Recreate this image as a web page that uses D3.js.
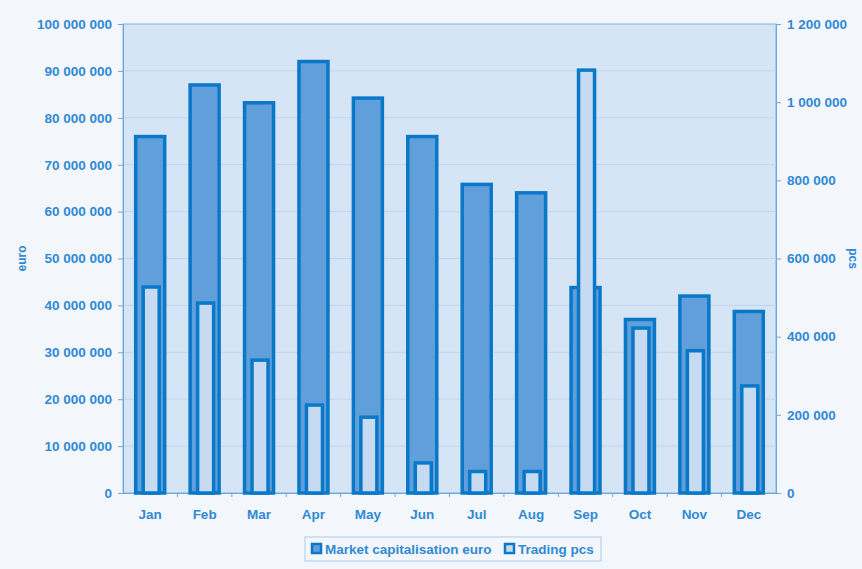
<!DOCTYPE html>
<html>
<head>
<meta charset="utf-8">
<script src="https://cdn.jsdelivr.net/npm/d3@7"></script>
<style>
  body { margin: 0; background: #f3f7fc; }
  svg text { font-family: "Liberation Sans", Arial, sans-serif; font-weight: bold; fill: #3189d4; }
</style>
</head>
<body>
<svg id="chart" width="862" height="569"></svg>
<script>
const months = ["Jan", "Feb", "Mar", "Apr", "May", "Jun", "Jul", "Aug", "Sep", "Oct", "Nov", "Dec"];
const marketCap = [76000000, 87000000, 83200000, 92000000, 84200000, 76000000, 65800000, 64000000, 43800000, 37000000, 42000000, 38700000];
const tradingPcs = [527000, 486000, 340000, 225000, 194000, 77000, 55000, 55000, 1082000, 422000, 364000, 274000];
const leftTicks = d3.range(0, 100000001, 10000000);
const rightTicks = d3.range(0, 1200001, 200000);

const W = 862, H = 569;
const m = { top: 24, right: 86, bottom: 76, left: 123 };
const x0 = m.left, x1 = W - m.right, y0 = H - m.bottom, y1 = m.top;

const svg = d3.select("#chart");
const fmt = v => d3.format(",")(v).replace(/,/g, " ");

const x = d3.scaleBand(months, [x0, x1]);
const yL = d3.scaleLinear([0, 100000000], [y0, y1]);
const yR = d3.scaleLinear([0, 1200000], [y0, y1]);

const stroke = "#0a78c8";

// plot area
svg.append("rect")
    .attr("x", x0).attr("y", y1)
    .attr("width", x1 - x0).attr("height", y0 - y1)
    .attr("fill", "#d6e5f5")
    .attr("stroke", "#7fb1e0").attr("stroke-width", 1);

// grid
svg.append("g").selectAll("line")
    .data(leftTicks.slice(1, -1))
    .join("line")
    .attr("x1", x0).attr("x2", x1)
    .attr("y1", d => yL(d)).attr("y2", d => yL(d))
    .attr("stroke", "#bfd5ee").attr("stroke-width", 1);

// left axis
const gl = svg.append("g")
    .attr("transform", `translate(${x0},0)`)
    .call(d3.axisLeft(yL).tickValues(leftTicks).tickFormat(fmt).tickSize(5).tickPadding(6));
gl.select(".domain").attr("stroke", "#6ea7dc");
gl.selectAll(".tick line").attr("stroke", "#6ea7dc");
gl.selectAll("text").attr("font-size", 13.5).style("fill", "#3189d4");

// right axis
const gr = svg.append("g")
    .attr("transform", `translate(${x1},0)`)
    .call(d3.axisRight(yR).tickValues(rightTicks).tickFormat(fmt).tickSize(5).tickPadding(6));
gr.select(".domain").attr("stroke", "#6ea7dc");
gr.selectAll(".tick line").attr("stroke", "#6ea7dc");
gr.selectAll("text").attr("font-size", 13.5).style("fill", "#3189d4");

// bottom axis
const gb = svg.append("g")
    .attr("transform", `translate(0,${y0})`)
    .call(d3.axisBottom(x).tickSize(0).tickPadding(16));
gb.select(".domain").attr("stroke", "#6ea7dc");
gb.selectAll("text").attr("font-size", 13.5).style("fill", "#3189d4");
gb.selectAll(".sep")
    .data(months.slice(1))
    .join("line")
    .attr("x1", d => x(d)).attr("x2", d => x(d))
    .attr("y1", 0).attr("y2", 4)
    .attr("stroke", "#6ea7dc");

// market cap bars
const bw = 29;
svg.append("g").selectAll("rect")
    .data(months)
    .join("rect")
    .attr("x", d => x(d) + x.bandwidth() / 2 - bw / 2)
    .attr("y", (d, i) => yL(marketCap[i]))
    .attr("width", bw)
    .attr("height", (d, i) => y0 - yL(marketCap[i]))
    .attr("fill", "#609fd9")
    .attr("stroke", stroke).attr("stroke-width", 3.5);

// trading bars
const tw = 16;
svg.append("g").selectAll("rect")
    .data(months)
    .join("rect")
    .attr("x", d => x(d) + x.bandwidth() / 2 - tw / 2 + 1)
    .attr("y", (d, i) => yR(tradingPcs[i]))
    .attr("width", tw)
    .attr("height", (d, i) => y0 - yR(tradingPcs[i]))
    .attr("fill", "#c6dbf1")
    .attr("stroke", stroke).attr("stroke-width", 3.5);

// axis titles
svg.append("text")
    .attr("transform", `translate(26,${(y0 + y1) / 2}) rotate(-90)`)
    .attr("text-anchor", "middle").attr("font-size", 12)
    .text("euro");
svg.append("text")
    .attr("transform", `translate(849,${(y0 + y1) / 2}) rotate(90)`)
    .attr("text-anchor", "middle").attr("font-size", 12)
    .text("pcs");

// legend
const lg = svg.append("g").attr("transform", "translate(305,537)");
lg.append("rect")
    .attr("width", 296).attr("height", 24)
    .attr("fill", "#f3f7fc").attr("stroke", "#a9c9ea");
const items = [
    { label: "Market capitalisation euro", fill: "#609fd9", x: 7 },
    { label: "Trading pcs", fill: "#c6dbf1", x: 200 }
];
items.forEach(it => {
    lg.append("rect")
        .attr("x", it.x).attr("y", 7).attr("width", 9).attr("height", 9)
        .attr("fill", it.fill).attr("stroke", stroke).attr("stroke-width", 2.5);
    lg.append("text")
        .attr("x", it.x + 13).attr("y", 17)
        .attr("font-size", 13.5)
        .text(it.label);
});
</script>
</body>
</html>
